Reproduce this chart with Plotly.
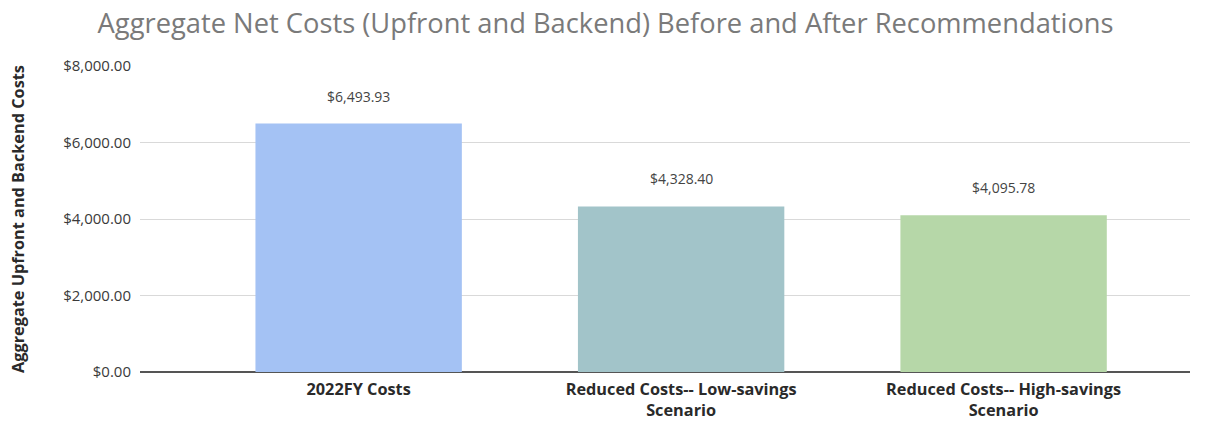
import plotly.graph_objects as go

categories = ["2022FY Costs", "Reduced Costs-- Low-savings<br>Scenario", "Reduced Costs-- High-savings<br>Scenario"]
values = [6493.93, 4328.40, 4095.78]
colors = ["#a4c2f4", "#a2c4c9", "#b6d7a8"]
tick_vals = [0, 2000, 4000, 6000, 8000]
tick_text = ["$0.00", "$2,000.00", "$4,000.00", "$6,000.00", "$8,000.00"]

labels = ["${:,.2f}".format(v) for v in values]

fig = go.Figure(go.Bar(
    x=categories, y=values, marker=dict(color=colors, line=dict(width=0)),
    width=0.64, hoverinfo="x+y",
))

for c, v, t in zip(categories, values, labels):
    fig.add_annotation(x=c, y=v, text=t, showarrow=False, yanchor="bottom",
                       yshift=16, font=dict(family="Open Sans", size=14, color="#444444"))

fig.update_layout(
    width=1221, height=422,
    margin=dict(l=140, r=31, t=66, b=50),
    paper_bgcolor="white", plot_bgcolor="white",
    title=dict(text="Aggregate Net Costs (Upfront and Backend) Before and After Recommendations",
               x=0.496, xanchor="center", y=0.945, yanchor="middle",
               font=dict(family="Open Sans", size=27.3, color="#7a7a7a")),
    showlegend=False,
    xaxis=dict(range=[-0.678, 2.578], showgrid=False, showline=False, ticks="",
               tickfont=dict(family="Open Sans", size=16.3, color="#2a2a2a", weight="bold"),
               ticklabelstandoff=6, automargin=False),
    yaxis=dict(range=[0, 8000], tickvals=tick_vals, ticktext=tick_text,
               showgrid=True, gridcolor="#d9d9d9", gridwidth=1,
               zeroline=True, zerolinecolor="#555555", zerolinewidth=1.5,
               tickfont=dict(family="Open Sans", size=15, color="#3a3a3a"),
               ticks="", ticklabelstandoff=8, automargin=False,
               title=dict(text="<b>Aggregate Upfront and Backend Costs</b>",
                          font=dict(family="Open Sans", size=16.3, color="#2a2a2a"),
                          standoff=34)),
)

fig.write_html("out.html")
